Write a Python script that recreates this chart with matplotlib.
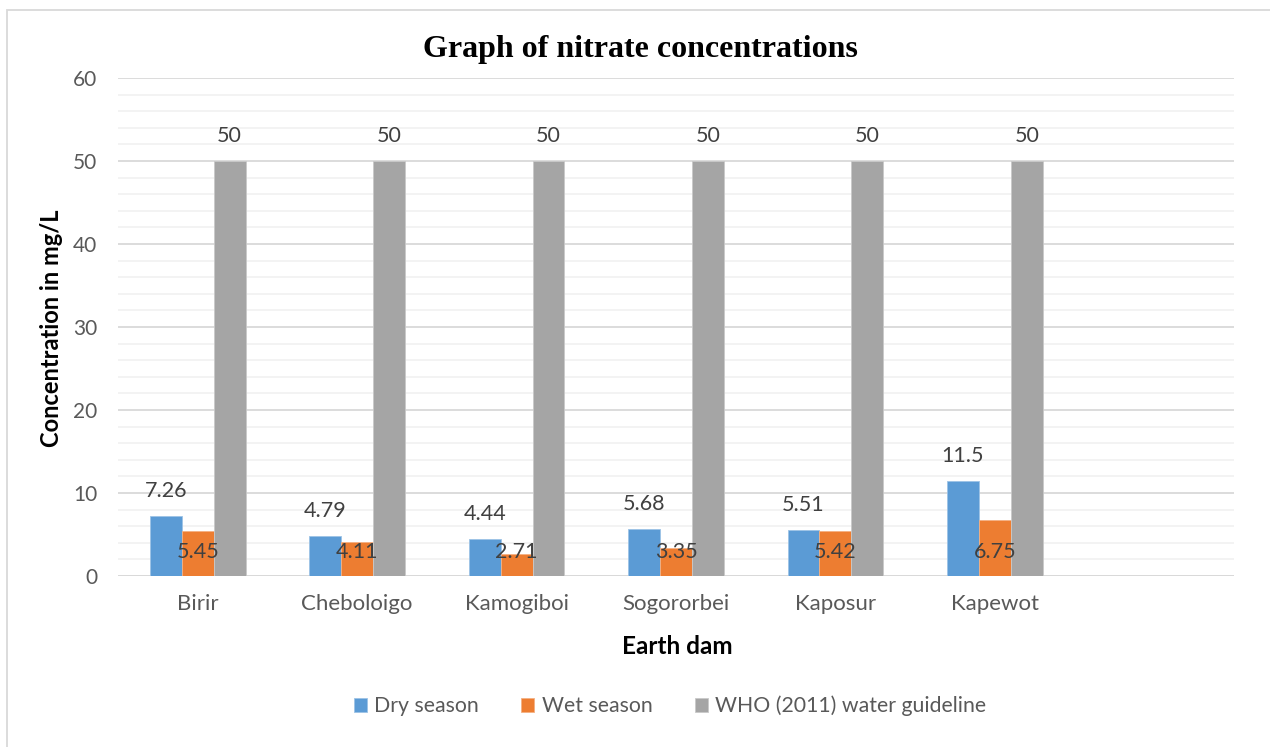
import numpy as np
import matplotlib
matplotlib.use('Agg')
import matplotlib.pyplot as plt
from matplotlib.patches import Rectangle

plt.rcParams['font.family'] = ['Lato', 'DejaVu Sans']

# earth dams (last slot left empty on the category axis)
dams = ['Birir', 'Cheboloigo', 'Kamogiboi', 'Sogororbei', 'Kaposur', 'Kapewot', '']
dry = [7.26, 4.79, 4.44, 5.68, 5.51, 11.5]
wet = [5.45, 4.11, 2.71, 3.35, 5.42, 6.75]
who = [50, 50, 50, 50, 50, 50]
series_names = ['Dry season', 'Wet season', 'WHO (2011) water guideline']
colors = ['#5B9BD5', '#ED7D31', '#A5A5A5']

fig = plt.figure(figsize=(12.7, 7.47), dpi=100)
ax = fig.add_axes([118/1270, 1-576/747, (1234-118)/1270, (576-78)/747])

# outer chart frame
fig.patches.append(Rectangle((7/1270, -0.1), 1.2, 1 - 10/747 + 0.1,
                             transform=fig.transFigure, fill=False,
                             edgecolor='#d9d9d9', linewidth=1.3))

x = np.arange(len(dry))
w = 0.2
b1 = ax.bar(x - w, dry, w, color=colors[0], edgecolor='#9dc3e6', linewidth=0.6, label=series_names[0], zorder=3)
b2 = ax.bar(x, wet, w, color=colors[1], edgecolor='#f4b183', linewidth=0.6, label=series_names[1], zorder=3)
b3 = ax.bar(x + w, who, w, color=colors[2], edgecolor='#c9c9c9', linewidth=0.6, label=series_names[2], zorder=3)

lab_kw = dict(ha='center', va='center', fontsize=15.5, color='#404040', zorder=4)
for i in range(len(dry)):
    ax.annotate('%g' % dry[i], (x[i] - w, dry[i]), xytext=(0, 18), textcoords='offset points', **lab_kw)
    ax.annotate('%g' % who[i], (x[i] + w, who[i]), xytext=(0, 18), textcoords='offset points', **lab_kw)
    ax.text(x[i], 2.85, '%g' % wet[i], **lab_kw)

ax.set_xlim(-0.5, len(dams) - 0.5)
ax.set_ylim(0, 60)
ax.set_xticks(np.arange(len(dams)))
ax.set_xticklabels(dams)
ax.set_yticks(np.arange(0, 61, 10))
ax.set_yticks(np.arange(0, 61, 2), minor=True)
ax.tick_params(axis='both', which='both', length=0, labelcolor='#595959')
ax.tick_params(axis='x', pad=13, labelsize=16)
ax.tick_params(axis='y', pad=15, labelsize=15)
ax.grid(axis='y', which='major', color='#d9d9d9', linewidth=1.3, zorder=0)
ax.grid(axis='y', which='minor', color='#f2f2f2', linewidth=1.3, zorder=0)
for s in ax.spines.values():
    s.set_visible(False)
ax.axhline(0, color='#d9d9d9', linewidth=1.3, zorder=2)

fig.text(640/1270, 1-50/747, 'Graph of nitrate concentrations', ha='center', va='center',
         fontsize=23, fontweight='bold', family='Liberation Serif', color='black')
fig.text(52/1270, 1-328/747, 'Concentration in mg/L', rotation=90, ha='center', va='center',
         fontsize=17, fontweight='bold', color='black')
fig.text(677/1270, 1-646/747, 'Earth dam', ha='center', va='center',
         fontsize=17.5, fontweight='bold', color='black')

leg = fig.legend(handles=[b1, b2, b3], loc='center', bbox_to_anchor=(670/1270, 1-706/747),
                 ncol=3, frameon=False, fontsize=15.3, handlelength=0.6, handleheight=0.6,
                 handletextpad=0.35, columnspacing=2.0)
for t in leg.get_texts():
    t.set_color('#595959')

fig.savefig('out.png', dpi=100)
